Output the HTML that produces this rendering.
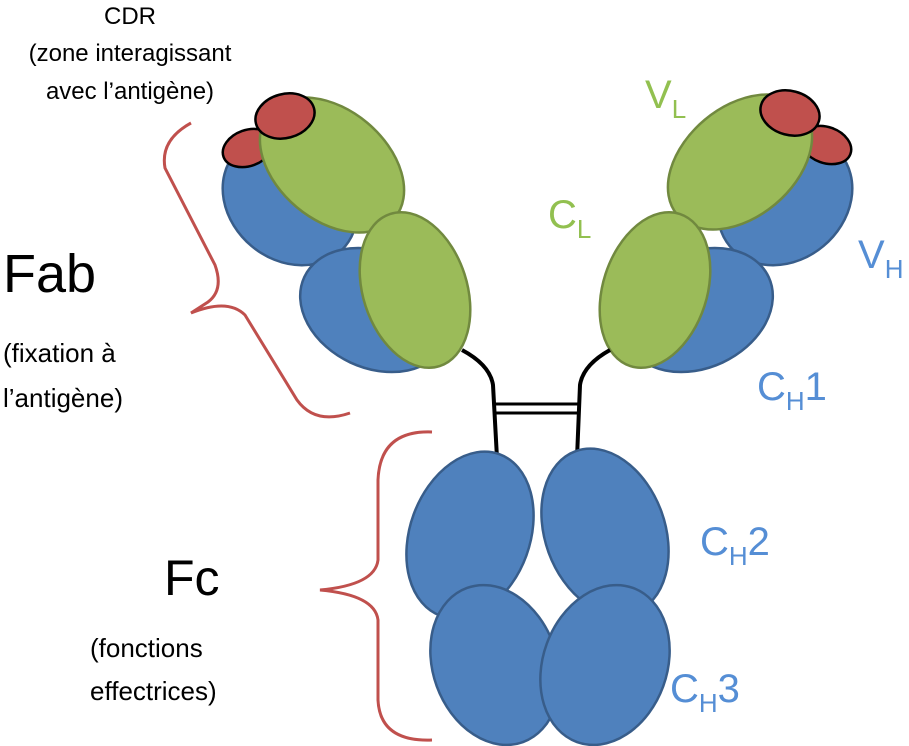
<!DOCTYPE html>
<html><head><meta charset="utf-8"><style>
html,body{margin:0;padding:0;background:#fff;}
svg{display:block;}
text{font-family:"Liberation Sans",sans-serif;}
</style></head><body>
<svg width="909" height="746" viewBox="0 0 909 746">
<g stroke-width="2.5">
 <ellipse cx="290" cy="200" rx="72" ry="60" transform="rotate(40 290 200)" fill="#4F81BD" stroke="#385D8A"/>
 <ellipse cx="248" cy="148" rx="26" ry="18" transform="rotate(-20 248 148)" fill="#C0504D" stroke="#000"/>
 <ellipse cx="375" cy="310" rx="78" ry="58" transform="rotate(25 375 310)" fill="#4F81BD" stroke="#385D8A"/>
 <ellipse cx="332" cy="165" rx="82" ry="55" transform="rotate(40 332 165)" fill="#9BBB59" stroke="#71893F"/>
 <ellipse cx="285" cy="116" rx="30" ry="22" transform="rotate(-15 285 116)" fill="#C0504D" stroke="#000"/>
 <ellipse cx="415" cy="290" rx="52" ry="80" transform="rotate(-18 415 290)" fill="#9BBB59" stroke="#71893F"/>
 <ellipse cx="785" cy="200" rx="72" ry="60" transform="rotate(-40 785 200)" fill="#4F81BD" stroke="#385D8A"/>
 <ellipse cx="826" cy="145" rx="26" ry="18" transform="rotate(20 826 145)" fill="#C0504D" stroke="#000"/>
 <ellipse cx="698" cy="310" rx="78" ry="58" transform="rotate(-25 698 310)" fill="#4F81BD" stroke="#385D8A"/>
 <ellipse cx="740" cy="162" rx="82" ry="55" transform="rotate(-40 740 162)" fill="#9BBB59" stroke="#71893F"/>
 <ellipse cx="790" cy="113" rx="30" ry="22" transform="rotate(15 790 113)" fill="#C0504D" stroke="#000"/>
 <ellipse cx="655" cy="290" rx="52" ry="80" transform="rotate(18 655 290)" fill="#9BBB59" stroke="#71893F"/>
</g>
<g fill="none" stroke="#000" stroke-width="4">
 <path d="M462,350 Q490,365 493,385 L497,458"/>
 <path d="M610,350 Q583,365 580,385 L577,458"/>
 <line x1="495" y1="404" x2="579" y2="404" stroke-width="3"/>
 <line x1="495" y1="413" x2="579" y2="413" stroke-width="3"/>
</g>
<g stroke-width="2.5" fill="#4F81BD" stroke="#385D8A">
 <ellipse cx="470" cy="535" rx="60" ry="86" transform="rotate(20 470 535)"/>
 <ellipse cx="605" cy="532" rx="60" ry="86" transform="rotate(-20 605 532)"/>
 <ellipse cx="495" cy="665" rx="62" ry="82" transform="rotate(-20 495 665)"/>
 <ellipse cx="605" cy="665" rx="62" ry="82" transform="rotate(20 605 665)"/>
</g>
<g fill="none" stroke="#C0504D" stroke-width="3">
 <path d="M191,123 Q160,140 165,168 L215,265 Q224,290 208,302 L191,313 Q228,298 245,315 L297,400 Q315,425 350,413"/>
 <path d="M432,432 Q380,430 378,480 L378,560 Q375,585 320,590 Q375,595 378,620 L378,700 Q380,742 432,740"/>
</g>
<g fill="#000" font-size="24" text-anchor="middle">
 <text x="130" y="24">CDR</text>
 <text x="130" y="61">(zone interagissant</text>
 <text x="130" y="99">avec l’antigène)</text>
</g>
<text x="3" y="292" font-size="54">Fab</text>
<text x="3" y="362" font-size="26">(fixation à</text>
<text x="3" y="407" font-size="26">l’antigène)</text>
<text x="164" y="595" font-size="50">Fc</text>
<text x="90" y="657" font-size="26">(fonctions</text>
<text x="90" y="700" font-size="26">effectrices)</text>
<g fill="#92C050" font-size="40">
 <text x="645" y="108">V<tspan font-size="26" dy="10">L</tspan></text>
 <text x="548" y="228">C<tspan font-size="26" dy="10">L</tspan></text>
</g>
<g fill="#558ED5" font-size="40">
 <text x="858" y="268">V<tspan font-size="26" dy="10">H</tspan></text>
 <text x="757" y="400">C<tspan font-size="26" dy="10">H</tspan><tspan dy="-10">1</tspan></text>
 <text x="700" y="555">C<tspan font-size="26" dy="10">H</tspan><tspan dy="-10">2</tspan></text>
 <text x="670" y="702">C<tspan font-size="26" dy="10">H</tspan><tspan dy="-10">3</tspan></text>
</g>
</svg>
</body></html>
